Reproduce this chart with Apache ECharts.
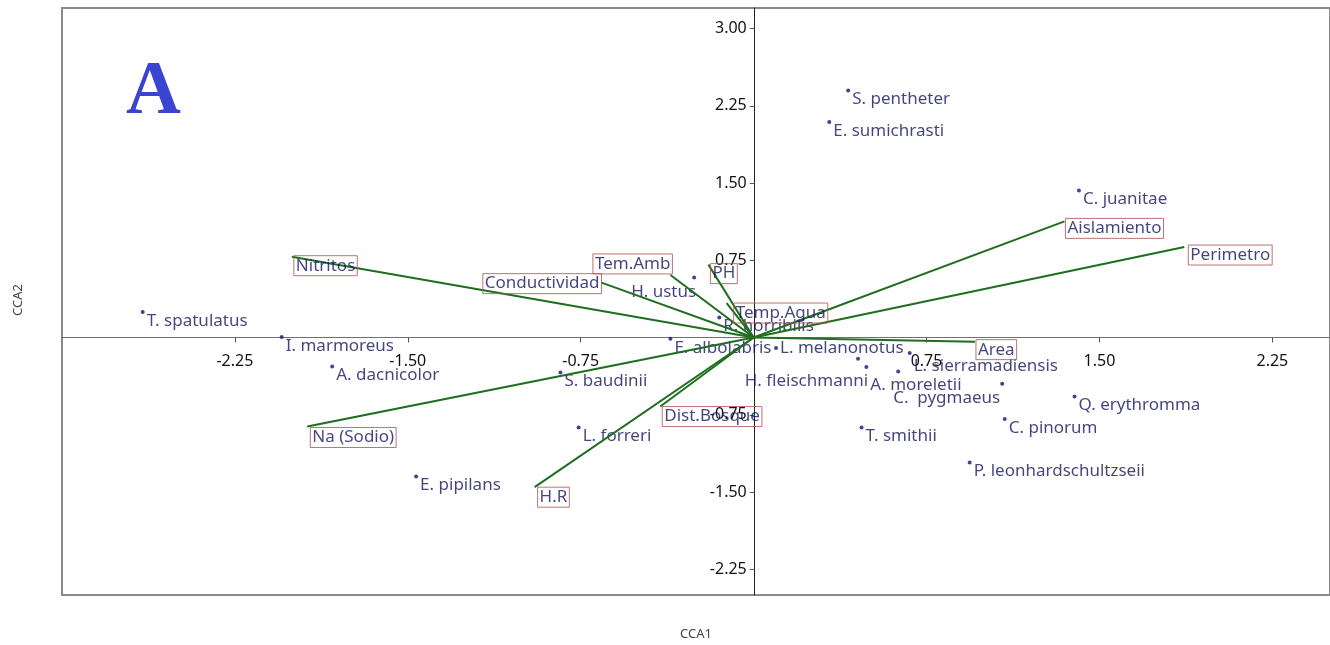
<!DOCTYPE html>
<html><head><meta charset="utf-8">
<script src="https://cdn.jsdelivr.net/npm/echarts@6/dist/echarts.min.js"></script>
<style>html,body{margin:0;padding:0;background:#fff}#c{width:1330px;height:645px}</style>
</head><body><div id="c"></div>
<script>
// ---- data ----
const speciesNames = ['T. spatulatus','I. marmoreus','A. dacnicolor','E. pipilans','S. baudinii','L. forreri','H. ustus','R. horribilis','E. albolabris','L. melanonotus','H. fleischmanni','A. moreletii','L. sierramadiensis','C.  pygmaeus','T. smithii','C. pinorum','Q. erythromma','P. leonhardschultzseii','C. juanitae','S. pentheter','E. sumichrasti'];
const speciesCCA1 = [-2.650,-2.047,-1.828,-1.464,-0.838,-0.759,-0.258,-0.149,-0.361,0.097,0.453,0.489,0.677,0.627,0.468,1.089,1.392,0.937,1.411,0.410,0.328];
const speciesCCA2 = [0.248,0.005,-0.281,-1.350,-0.339,-0.874,0.584,0.195,-0.012,-0.102,-0.206,-0.287,-0.151,-0.329,-0.874,-0.792,-0.572,-1.214,1.427,2.398,2.094];
const unlabeledCCA1 = [1.078];
const unlabeledCCA2 = [-0.449];
const envNames = ['Nitritos','Conductividad','Tem.Amb','PH','Temp.Agua','Aislamiento','Perimetro','Area','Na (Sodio)','H.R','Dist.Bosque'];
const envCCA1 = [-2.003,-0.660,-0.361,-0.196,-0.117,1.348,1.868,0.960,-1.936,-0.950,-0.405];
const envCCA2 = [0.785,0.533,0.608,0.708,0.335,1.128,0.879,-0.040,-0.864,-1.453,-0.670];
const xTickValues = [-2.25,-1.5,-0.75,0.75,1.5,2.25];
const yTickValues = [-2.25,-1.5,-0.75,0.75,1.5,2.25,3.0];
const xRange = [-3.0, 2.5];
const yRange = [-2.5, 3.2];

// ---- layout & label placement (style) ----
const G = {left:62, top:8, width:1270, height:587};
const speciesLabelStyle = {
  'H. ustus': {position:'left', offset:[6,15]},
  'L. melanonotus': {offset:[0,0]},
  'H. fleischmanni': {position:'left', offset:[14,22]},
  'A. moreletii': {offset:[0,18]},
  'L. sierramadiensis': {offset:[0,13]},
  'C.  pygmaeus': {offset:[-9,27]}
};
const envLabelStyle = {
  'Nitritos': {offset:[2,9]},
  'Conductividad': {position:'left', offset:[0,1]},
  'Tem.Amb': {position:'left', offset:[2,-11]},
  'PH': {offset:[2,9]},
  'Temp.Agua': {offset:[7,10]},
  'Aislamiento': {offset:[1,7]},
  'Perimetro': {offset:[4,8]},
  'Area': {offset:[1,8]},
  'Na (Sodio)': {offset:[3,11]},
  'H.R': {offset:[3,10]},
  'Dist.Bosque': {offset:[2,10]}
};

const FONT = 'Noto Sans';
const NAVY = '#15155f';
const GREEN = '#1f6e1f';

// place the axes on the zero lines (labels follow them)
const xZeroPx = G.width * (0 - xRange[0]) / (xRange[1] - xRange[0]);
const yZeroPx = G.height * (yRange[1] - 0) / (yRange[1] - yRange[0]);

const speciesData = speciesNames.map((n,i)=>{
  const s = speciesLabelStyle[n] || {};
  return {name:n, value:[speciesCCA1[i], speciesCCA2[i]],
    label:{position:s.position||'right', offset:s.offset||[0,9]}};
});
const unlabeledData = unlabeledCCA1.map((x,i)=>[x, unlabeledCCA2[i]]);
const envLabelData = envNames.map((n,i)=>{
  const s = envLabelStyle[n] || {};
  return {name:n, value:[envCCA1[i], envCCA2[i]],
    label:{position:s.position||'right', offset:s.offset||[0,8]}};
});
const vectorSeries = envNames.map((n,i)=>({
  type:'line', name:n, data:[[0,0],[envCCA1[i], envCCA2[i]]],
  symbol:'none', silent:true, z:3, animation:false,
  lineStyle:{color:GREEN, width:2}
}));

const chart = echarts.init(document.getElementById('c'), null, {renderer:'canvas'});
chart.setOption({
  animation:false,
  backgroundColor:'#fff',
  grid:Object.assign({show:true, borderColor:'#8a8a8a', borderWidth:2, backgroundColor:'transparent'}, G),
  xAxis:{type:'value', min:xRange[0], max:xRange[1], position:'bottom', offset:-(G.height - yZeroPx),
    axisLine:{onZero:false, lineStyle:{color:'#707070', width:1}},
    axisTick:{show:true, length:5, customValues:xTickValues, lineStyle:{color:'#555'}},
    axisLabel:{customValues:xTickValues, formatter:v=>v.toFixed(2), margin:16, color:'#111', fontSize:16, fontFamily:FONT},
    splitLine:{show:false}},
  yAxis:{type:'value', min:yRange[0], max:yRange[1], position:'left', offset:-xZeroPx,
    axisLine:{onZero:false, lineStyle:{color:'#222', width:1}},
    axisTick:{show:true, length:5, customValues:yTickValues, lineStyle:{color:'#555'}},
    axisLabel:{customValues:yTickValues, formatter:v=>v.toFixed(2), margin:8, color:'#111', fontSize:16, fontFamily:FONT},
    splitLine:{show:false}},
  graphic:[
    {type:'text', left:126, top:55, style:{text:'A', font:'bold 76px "Liberation Serif", "DejaVu Serif", serif', fill:'#3a44d0'}},
    {type:'text', x:696, y:634, style:{text:'CCA1', fontSize:13, fontFamily:FONT, fill:'#444', align:'center', verticalAlign:'middle'}},
    {type:'text', x:18, y:300, rotation:Math.PI/2, style:{text:'CCA2', fontSize:13, fontFamily:FONT, fill:'#444', align:'center', verticalAlign:'middle'}}
  ],
  series:[
    {type:'scatter', name:'species', data:speciesData, symbol:'circle', symbolSize:4, z:2,
     itemStyle:{color:'#14147a'},
     label:{show:true, formatter:p=>p.name, distance:2, color:NAVY, fontSize:17, fontFamily:FONT}},
    {type:'scatter', name:'unlabeled', data:unlabeledData, symbol:'circle', symbolSize:4, z:2,
     itemStyle:{color:'#14147a'}},
    ...vectorSeries,
    {type:'scatter', name:'env', data:envLabelData, symbolSize:0, z:4, silent:true,
     label:{show:true, formatter:p=>p.name, distance:0, color:NAVY, fontSize:17, fontFamily:FONT,
       borderColor:'#b04f4f', borderWidth:1, padding:[1,2,0,2], lineHeight:19}}
  ]
});
</script></body></html>
